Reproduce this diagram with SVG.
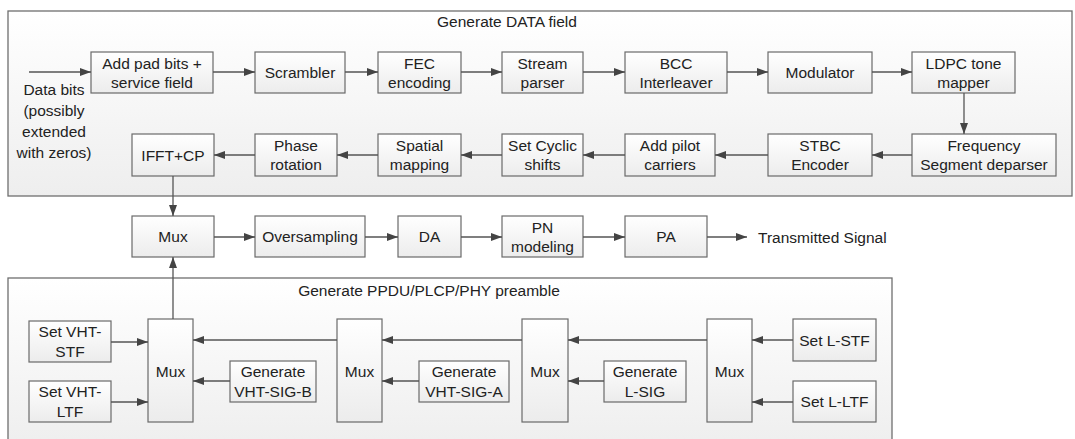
<svg xmlns="http://www.w3.org/2000/svg" width="1075" height="439" viewBox="0 0 1075 439">
<defs>
<linearGradient id="boxg" x1="0" y1="0" x2="0" y2="1"><stop offset="0" stop-color="#ffffff"/><stop offset="1" stop-color="#ececec"/></linearGradient>
<linearGradient id="contg" x1="0" y1="0" x2="0" y2="1"><stop offset="0" stop-color="#ffffff"/><stop offset="1" stop-color="#eeeeee"/></linearGradient>
<marker id="ah" markerWidth="12" markerHeight="10" refX="11" refY="4" orient="auto" markerUnits="userSpaceOnUse"><path d="M0,0 L11,4 L0,8 z" fill="#444"/></marker>
</defs>
<style>
.cont{fill:url(#contg);stroke:#6f6f6f;stroke-width:1.3}
.box{fill:url(#boxg);stroke:#6a6a6a;stroke-width:1.2}
text{font-family:"Liberation Sans",Arial,sans-serif;font-size:15.5px;fill:#222;text-anchor:middle;dominant-baseline:central}
.c{fill:none;stroke:#555;stroke-width:1.3;marker-end:url(#ah)}
</style>
<g id="data-field">
<rect class="cont" x="8" y="11" width="1064" height="185"/>
<text x="507" y="21">Generate DATA field</text>
</g>
<g id="preamble">
<rect class="cont" x="8" y="278" width="884" height="170"/>
<text x="429" y="290">Generate PPDU/PLCP/PHY preamble</text>
</g>
<g id="data-bits"><text x="54" y="89">Data bits</text><text x="54" y="110">(possibly</text><text x="54" y="131">extended</text><text x="54" y="152">with zeros)</text></g>
<g id="pad"><rect class="box" x="91" y="52" width="122" height="41"/><text x="152" y="63">Add pad bits +</text><text x="152" y="82">service field</text></g>
<g id="scrambler"><rect class="box" x="255" y="52" width="90" height="41"/><text x="300" y="72.5">Scrambler</text></g>
<g id="fec"><rect class="box" x="378" y="52" width="83" height="41"/><text x="419.5" y="63">FEC</text><text x="419.5" y="82">encoding</text></g>
<g id="stream"><rect class="box" x="502" y="52" width="81" height="41"/><text x="542.5" y="63">Stream</text><text x="542.5" y="82">parser</text></g>
<g id="bcc"><rect class="box" x="625" y="52" width="102" height="41"/><text x="676" y="63">BCC</text><text x="676" y="82">Interleaver</text></g>
<g id="modulator"><rect class="box" x="768" y="52" width="104" height="41"/><text x="820" y="72.5">Modulator</text></g>
<g id="ldpc"><rect class="box" x="912" y="52" width="103" height="41"/><text x="963.5" y="63">LDPC tone</text><text x="963.5" y="82">mapper</text></g>
<g id="ifft"><rect class="box" x="132" y="134" width="82" height="42"/><text x="173" y="155">IFFT+CP</text></g>
<g id="phase"><rect class="box" x="255" y="134" width="82" height="42"/><text x="296" y="145">Phase</text><text x="296" y="164">rotation</text></g>
<g id="spatial"><rect class="box" x="378" y="134" width="83" height="42"/><text x="419.5" y="145">Spatial</text><text x="419.5" y="164">mapping</text></g>
<g id="cyclic"><rect class="box" x="502" y="134" width="81" height="42"/><text x="542.5" y="145">Set Cyclic</text><text x="542.5" y="164">shifts</text></g>
<g id="pilot"><rect class="box" x="625" y="134" width="90" height="42"/><text x="670" y="145">Add pilot</text><text x="670" y="164">carriers</text></g>
<g id="stbc"><rect class="box" x="768" y="134" width="104" height="42"/><text x="820" y="145">STBC</text><text x="820" y="164">Encoder</text></g>
<g id="freq"><rect class="box" x="912" y="134" width="144" height="42"/><text x="984" y="145">Frequency</text><text x="984" y="164">Segment deparser</text></g>
<g id="mux-main"><rect class="box" x="132" y="216" width="82" height="41"/><text x="173" y="236.5">Mux</text></g>
<g id="oversampling"><rect class="box" x="255" y="216" width="110" height="41"/><text x="310" y="236.5">Oversampling</text></g>
<g id="da"><rect class="box" x="398" y="216" width="63" height="41"/><text x="429.5" y="236.5">DA</text></g>
<g id="pn"><rect class="box" x="502" y="216" width="81" height="41"/><text x="542.5" y="227">PN</text><text x="542.5" y="246">modeling</text></g>
<g id="pa"><rect class="box" x="625" y="216" width="82" height="41"/><text x="666" y="236.5">PA</text></g>
<g id="tx"><text x="758" y="237" style="text-anchor:start">Transmitted Signal</text></g>
<g id="vht-stf"><rect class="box" x="29" y="321" width="82" height="41"/><text x="70" y="331">Set VHT-</text><text x="70" y="351">STF</text></g>
<g id="vht-ltf"><rect class="box" x="29" y="381" width="82" height="41"/><text x="70" y="391">Set VHT-</text><text x="70" y="411">LTF</text></g>
<g id="mux1"><rect class="box" x="148" y="319" width="45" height="103"/><text x="170.5" y="371">Mux</text></g>
<g id="sigb"><rect class="box" x="230" y="361" width="86" height="41"/><text x="273" y="371">Generate</text><text x="273" y="391">VHT-SIG-B</text></g>
<g id="mux2"><rect class="box" x="337" y="319" width="45" height="103"/><text x="359.5" y="371">Mux</text></g>
<g id="siga"><rect class="box" x="419" y="361" width="90" height="41"/><text x="464" y="371">Generate</text><text x="464" y="391">VHT-SIG-A</text></g>
<g id="mux3"><rect class="box" x="522" y="319" width="46" height="103"/><text x="545" y="371">Mux</text></g>
<g id="lsig"><rect class="box" x="604" y="361" width="82" height="41"/><text x="645" y="371">Generate</text><text x="645" y="391">L-SIG</text></g>
<g id="mux4"><rect class="box" x="707" y="319" width="45" height="103"/><text x="729.5" y="371">Mux</text></g>
<g id="lstf"><rect class="box" x="793" y="319" width="83" height="42"/><text x="834.5" y="340">Set L-STF</text></g>
<g id="lltf"><rect class="box" x="793" y="381" width="83" height="41"/><text x="834.5" y="401.5">Set L-LTF</text></g>
<g id="connectors">
<path class="c" d="M29,72 H91"/>
<path class="c" d="M213,72 H255"/>
<path class="c" d="M345,72 H378"/>
<path class="c" d="M461,72 H502"/>
<path class="c" d="M583,72 H625"/>
<path class="c" d="M727,72 H768"/>
<path class="c" d="M872,72 H912"/>
<path class="c" d="M964,93 V134"/>
<path class="c" d="M912,155 H872"/>
<path class="c" d="M768,155 H715"/>
<path class="c" d="M625,155 H583"/>
<path class="c" d="M502,155 H461"/>
<path class="c" d="M378,155 H337"/>
<path class="c" d="M255,155 H214"/>
<path class="c" d="M173,176 V216"/>
<path class="c" d="M214,237 H255"/>
<path class="c" d="M365,237 H398"/>
<path class="c" d="M461,237 H502"/>
<path class="c" d="M583,237 H625"/>
<path class="c" d="M707,237 H747"/>
<path class="c" d="M173,319 V257"/>
<path class="c" d="M111,342 H148"/>
<path class="c" d="M111,402 H148"/>
<path class="c" d="M230,381 H193"/>
<path class="c" d="M337,340 H193"/>
<path class="c" d="M419,381 H382"/>
<path class="c" d="M522,340 H382"/>
<path class="c" d="M604,381 H568"/>
<path class="c" d="M707,340 H568"/>
<path class="c" d="M793,340 H752"/>
<path class="c" d="M793,402 H752"/>
</g>
</svg>
